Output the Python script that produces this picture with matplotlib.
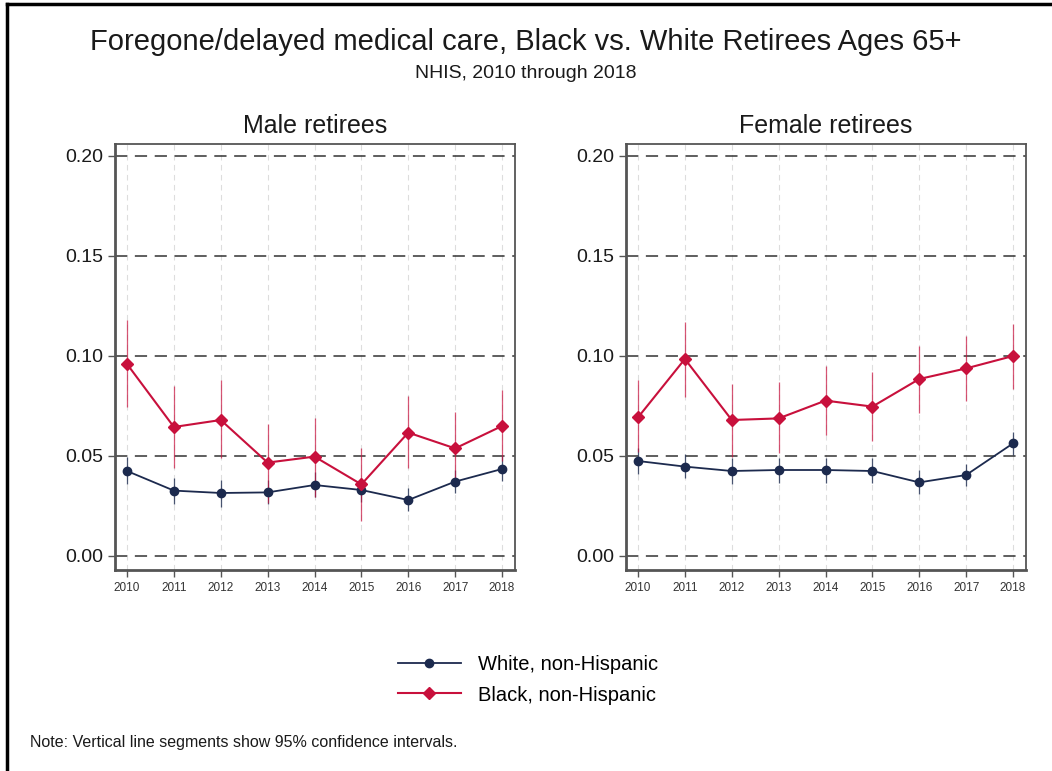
import matplotlib.pyplot as plt
from matplotlib.lines import Line2D

plt.rcParams['font.family'] = ['Liberation Sans', 'DejaVu Sans']

years = [2010, 2011, 2012, 2013, 2014, 2015, 2016, 2017, 2018]

# Male retirees: point estimates and 95% CI bounds
male_white = [0.0425, 0.0327, 0.0315, 0.0318, 0.0355, 0.0330, 0.0280, 0.0372, 0.0435]
male_white_lo = [0.0358, 0.0258, 0.0247, 0.0258, 0.0297, 0.0268, 0.0227, 0.0317, 0.0377]
male_white_hi = [0.0493, 0.0390, 0.0380, 0.0380, 0.0420, 0.0390, 0.0342, 0.0430, 0.0500]
male_black = [0.0960, 0.0645, 0.0680, 0.0467, 0.0497, 0.0358, 0.0617, 0.0538, 0.0650]
male_black_lo = [0.0747, 0.0438, 0.0488, 0.0263, 0.0297, 0.0177, 0.0438, 0.0355, 0.0477]
male_black_hi = [0.1180, 0.0850, 0.0880, 0.0660, 0.0688, 0.0542, 0.0800, 0.0722, 0.0830]

# Female retirees
female_white = [0.0475, 0.0447, 0.0425, 0.0430, 0.0430, 0.0425, 0.0368, 0.0405, 0.0563]
female_white_lo = [0.0408, 0.0388, 0.0358, 0.0367, 0.0367, 0.0367, 0.0310, 0.0350, 0.0505]
female_white_hi = [0.0542, 0.0508, 0.0488, 0.0490, 0.0490, 0.0488, 0.0430, 0.0460, 0.0622]
female_black = [0.0693, 0.0985, 0.0680, 0.0688, 0.0777, 0.0747, 0.0885, 0.0938, 0.1000]
female_black_lo = [0.0520, 0.0797, 0.0497, 0.0517, 0.0605, 0.0577, 0.0717, 0.0777, 0.0837]
female_black_hi = [0.0880, 0.1170, 0.0860, 0.0870, 0.0950, 0.0920, 0.1050, 0.1100, 0.1160]

yticks = [0.00, 0.05, 0.10, 0.15, 0.20]
white_color = '#1c2a4e'
black_color = '#c8103c'

fig = plt.figure(figsize=(10.52, 7.71), dpi=100)

# frame round the graph (top and left edges only)
fig.add_artist(Line2D([7 / 1052, 7 / 1052], [0, 1 - 4 / 771], color='black', lw=2.5))
fig.add_artist(Line2D([7 / 1052, 1], [1 - 4 / 771, 1 - 4 / 771], color='black', lw=2.5))

fig.text(0.5, 1 - 42 / 771, 'Foregone/delayed medical care, Black vs. White Retirees Ages 65+',
         ha='center', va='center', fontsize=21, color='#1a1a1a')
fig.text(0.5, 1 - 73 / 771, 'NHIS, 2010 through 2018', ha='center', va='center',
         fontsize=14, color='#1a1a1a')

panels = [
    ('Male retirees', 115, male_white, male_white_lo, male_white_hi,
     male_black, male_black_lo, male_black_hi),
    ('Female retirees', 626, female_white, female_white_lo, female_white_hi,
     female_black, female_black_lo, female_black_hi),
]

for title, left_px, w, wlo, whi, b, blo, bhi in panels:
    ax = fig.add_axes([left_px / 1052, 1 - 570 / 771, 400 / 1052, 426 / 771])
    ax.set_xlim(2009.744, 2018.277)
    ax.set_ylim(-0.007, 0.206)

    for y in yticks:
        ax.axhline(y, color='#333333', lw=1.1, dashes=(8, 5), zorder=1)
    for x in years:
        ax.axvline(x, color='#dddddd', lw=0.8, dashes=(5, 4), zorder=0)

    ax.vlines(years, wlo, whi, color=white_color, lw=0.9, alpha=0.8, zorder=2)
    ax.vlines(years, blo, bhi, color=black_color, lw=0.9, alpha=0.7, zorder=2)
    ax.plot(years, w, color=white_color, lw=1.3, marker='o', ms=6, zorder=3)
    ax.plot(years, b, color=black_color, lw=1.5, marker='D', ms=6, zorder=3)

    ax.set_xticks(years)
    ax.set_xticklabels([str(y) for y in years], fontsize=8.5, color='#333333')
    ax.set_yticks(yticks)
    ax.set_yticklabels(['%.2f' % y for y in yticks], fontsize=14, color='#1a1a1a')
    ax.tick_params(axis='both', direction='out', length=5, color='#555555', width=1)
    for side in ['left', 'bottom']:
        ax.spines[side].set_color('#555555')
        ax.spines[side].set_linewidth(2)
    for side in ['top', 'right']:
        ax.spines[side].set_color('#555555')
        ax.spines[side].set_linewidth(1.3)
    ax.set_title(title, fontsize=18, color='#1a1a1a', pad=8)

handles = [
    Line2D([], [], color=white_color, lw=1.3, marker='o', ms=6),
    Line2D([], [], color=black_color, lw=1.5, marker='D', ms=6),
]
fig.legend(handles, ['White, non-Hispanic', 'Black, non-Hispanic'],
           loc='center', bbox_to_anchor=(528 / 1052, 1 - 680 / 771),
           frameon=False, fontsize=14.5, handlelength=3.1, handletextpad=0.85,
           labelspacing=0.55)

fig.text(30 / 1052, 1 - 742 / 771, 'Note: Vertical line segments show 95% confidence intervals.',
         ha='left', va='center', fontsize=11.5, color='#1a1a1a')

fig.savefig('out.png', dpi=100, facecolor='white')
